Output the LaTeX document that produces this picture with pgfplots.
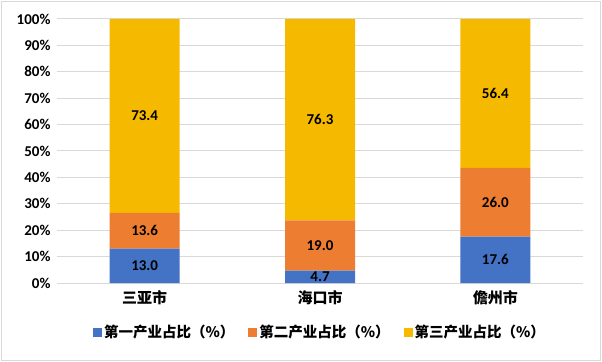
\documentclass[border=0pt]{standalone}
\usepackage{pgfplots}
\pgfplotsset{compat=1.18}
\usepackage{pgfplotstable}
\usepackage{fontspec}
\setmainfont{Carlito}
\newfontfamily\cjk{Noto Sans CJK SC}
\definecolor{cA}{HTML}{4472C4}
\definecolor{cB}{HTML}{ED7D31}
\definecolor{cC}{HTML}{F5BA00}
\definecolor{gridc}{HTML}{D9D9D9}
\pgfplotstableread{
x a b c
0 13.0 13.6 73.4
1 4.7 19.0 76.3
2 17.6 26.0 56.4
}\datatab
\begin{document}
\begin{tikzpicture}
\useasboundingbox (-57bp,-79bp) rectangle (545bp,283bp);
\draw[gridc, line width=1bp] (-55.5bp,-77.5bp) rectangle (543.5bp,281.5bp);
\begin{axis}[
  at={(0,0)}, anchor=south west,
  scale only axis,
  width=526bp, height=264bp,
  ybar stacked,
  bar width=70bp,
  xmin=-0.5, xmax=2.5,
  ymin=0, ymax=100,
  xtick={0,1,2},
  xticklabels={三亚市,海口市,儋州市},
  ytick={0,10,...,100},
  yticklabels={0\%,10\%,20\%,30\%,40\%,50\%,60\%,70\%,80\%,90\%,100\%},
  x tick label style={font=\cjk\bfseries\fontsize{15bp}{17bp}\selectfont, yshift=-4bp},
  y tick label style={font=\bfseries\fontsize{15bp}{17bp}\selectfont, xshift=-3bp},
  axis line style={draw=none},
  tick style={draw=none},
  ymajorgrids,
  major grid style={gridc, line width=1bp},
  legend columns=3,
  legend style={draw=none, at={(0.5,0)}, anchor=center, yshift=-49bp,
    font=\cjk\bfseries\fontsize{14.5bp}{16bp}\selectfont,
    /tikz/every even column/.append style={column sep=12bp},
    inner sep=0pt},
  legend image code/.code={\fill[#1] (0bp,-4.5bp) rectangle (9bp,4.5bp);},
]
\addplot[fill=cA, draw=none] table[x=x,y=a]{\datatab};
\addlegendentry{第一产业占比（\%）}
\addplot[fill=cB, draw=none] table[x=x,y=b]{\datatab};
\addlegendentry{第二产业占比（\%）}
\addplot[fill=cC, draw=none] table[x=x,y=c]{\datatab};
\addlegendentry{第三产业占比（\%）}
\end{axis}
\begin{axis}[
  at={(0,0)}, anchor=south west,
  scale only axis,
  width=526bp, height=264bp,
  xmin=-0.5, xmax=2.5,
  ymin=0, ymax=100,
  hide axis,
  clip=false,
  point meta=explicit,
  nodes near coords={\pgfmathprintnumber[assume math mode=true,fixed,fixed zerofill,precision=1]{\pgfplotspointmeta}},
  nodes near coords style={font=\bfseries\fontsize{15bp}{17bp}\selectfont, text=black, anchor=center},
]
\addplot[draw=none, mark=none] table[x=x, y expr=\thisrow{a}/2, meta=a]{\datatab};
\addplot[draw=none, mark=none] table[x=x, y expr=\thisrow{a}+\thisrow{b}/2, meta=b]{\datatab};
\addplot[draw=none, mark=none] table[x=x, y expr=\thisrow{a}+\thisrow{b}+\thisrow{c}/2, meta=c]{\datatab};
\end{axis}
\end{tikzpicture}
\end{document}
